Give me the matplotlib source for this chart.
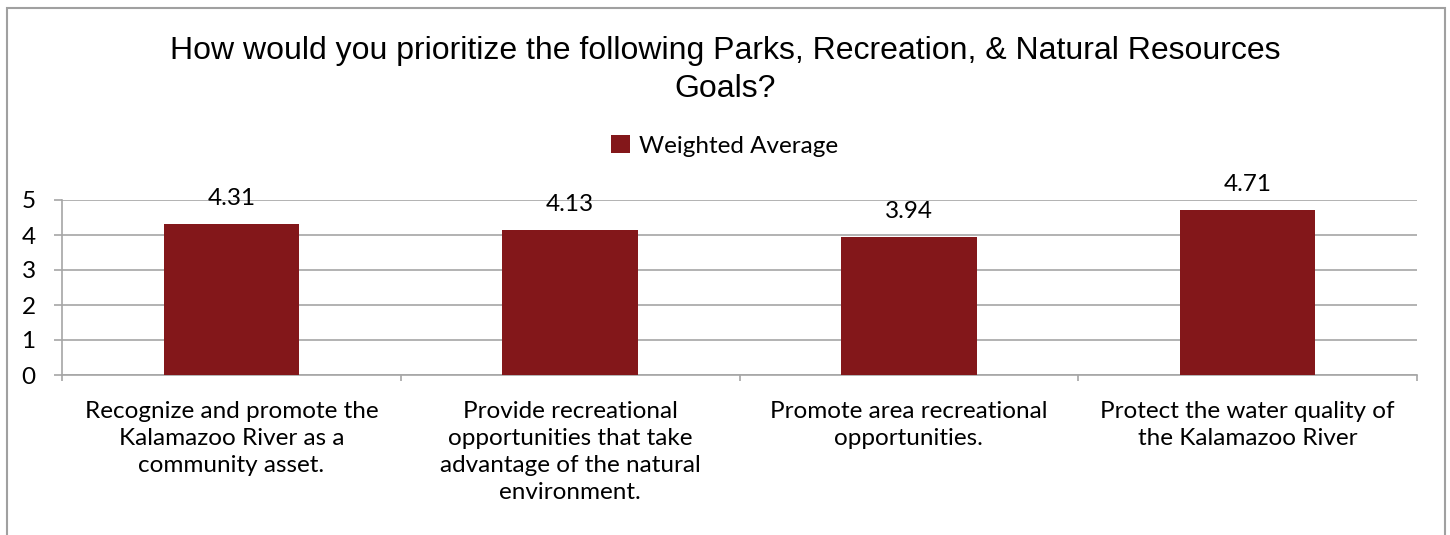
import matplotlib
matplotlib.use("Agg")
import matplotlib.pyplot as plt
import numpy as np
from matplotlib.patches import Rectangle

goals = ["Recognize and promote the\nKalamazoo River as a\ncommunity asset.",
         "Provide recreational\nopportunities that take\nadvantage of the natural\nenvironment.",
         "Promote area recreational\nopportunities.",
         "Protect the water quality of\nthe Kalamazoo River"]
weighted_avg = [4.31, 4.13, 3.94, 4.71]
y_ticks = [0, 1, 2, 3, 4, 5]

bar_color = '#83171a'
grid_color = '#a6a6a6'
fs = 17.5

fig = plt.figure(figsize=(14.5, 5.35), dpi=100)
W, H = 1450, 535

# outer chart border (bottom is cut off in the reference)
fig.patches.append(Rectangle((7 / W, -0.1), 1438 / W, 1.1 - 8 / H, transform=fig.transFigure,
                             fill=False, edgecolor='#a0a0a0', linewidth=1.5))

ax = fig.add_axes([62 / W, 160 / H, 1355 / W, 175 / H])
ind = np.arange(len(goals))
bars = ax.bar(ind, weighted_avg, 0.4, color=bar_color, zorder=3, label='Weighted Average')

ax.set_xlim(-0.5, len(goals) - 0.5)
ax.set_ylim(0, 5)
ax.set_yticks(y_ticks)
ax.set_yticklabels([str(t) for t in y_ticks], fontname='Lato', fontsize=fs)
ax.yaxis.grid(True, color=grid_color, linewidth=1.2, zorder=0)
ax.tick_params(axis='y', length=6, width=1.2, color=grid_color, pad=13)

ax.set_xticks(np.arange(-0.5, len(goals), 1.0))
ax.set_xticklabels([])
ax.set_xticks(ind, minor=True)
ax.set_xticklabels(goals, minor=True, fontname='Lato', fontsize=fs, linespacing=1.34, va='top')
ax.tick_params(axis='x', which='major', length=4, width=1.2, color=grid_color)
ax.tick_params(axis='x', which='minor', length=0, pad=19)

for s in ['top', 'right']:
    ax.spines[s].set_visible(False)
ax.spines['left'].set_color(grid_color)
ax.spines['left'].set_linewidth(1.2)
ax.spines['bottom'].set_color(grid_color)
ax.spines['bottom'].set_linewidth(1.2)

for rect, v in zip(bars, weighted_avg):
    ax.annotate('%.2f' % v, (rect.get_x() + rect.get_width() / 2, v),
                xytext=(0, 11), textcoords='offset points', ha='center', va='bottom',
                fontname='Lato', fontsize=fs)

fig.text(0.5, 1 - 70 / H, 'How would you prioritize the following Parks, Recreation, & Natural Resources\nGoals?',
         ha='center', va='center', fontname='Liberation Sans', fontsize=23, linespacing=1.32)

fig.legend(handles=[bars], labels=['Weighted Average'], loc='center', bbox_to_anchor=(0.5, 1 - 146 / H),
           frameon=False, prop={'family': 'Lato', 'size': fs}, handlelength=0.75, handleheight=0.75,
           handletextpad=0.4)

fig.savefig('out.png', dpi=100)
